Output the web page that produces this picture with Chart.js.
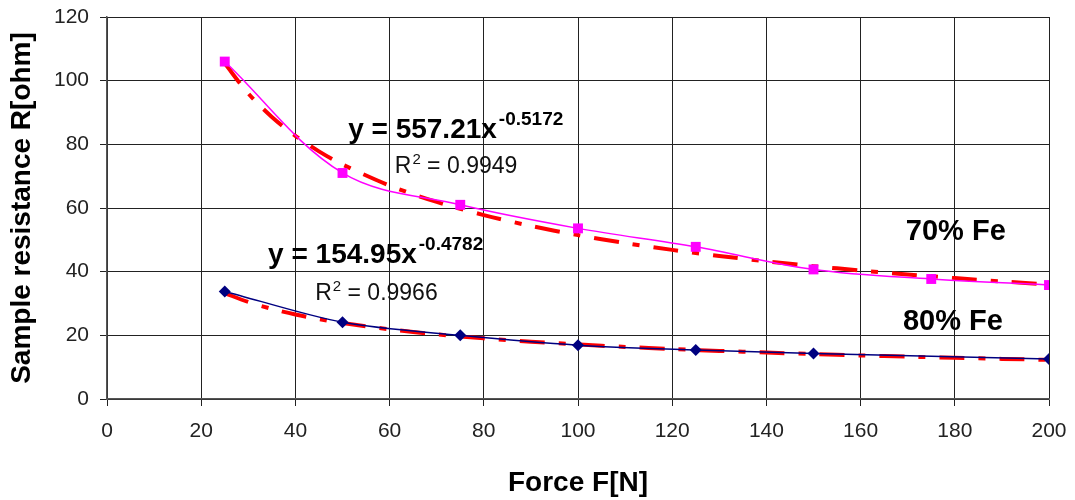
<!DOCTYPE html>
<html>
<head>
<meta charset="utf-8">
<script src="https://cdn.jsdelivr.net/npm/chart.js@4.4.1/dist/chart.umd.min.js"></script>
<style>
    html, body { margin: 0; padding: 0; background: #fff; }
    #wrap { width: 1075px; height: 500px; position: relative; }
</style>
</head>
<body>
<div id="wrap"><canvas id="forceChart"></canvas></div>
<script>
// measured samples
const fe70Force = [25, 50, 75, 100, 125, 150, 175, 200];
const fe70Resistance = [106, 71, 61, 53.6, 47.8, 40.7, 37.7, 35.8];
const fe80Force = [25, 50, 75, 100, 125, 150, 200];
const fe80Resistance = [33.8, 24.1, 20.0, 16.9, 15.4, 14.3, 12.6];

// power-law fits y = a * x^b, as printed on the chart
const fit70 = { a: 557.21, b: -0.5172, r2: 0.9949 };
const fit80 = { a: 154.95, b: -0.4782, r2: 0.9966 };
const trendForce = [25, 30, 35, 40, 45, 50, 60, 70, 80, 90, 100, 110, 120, 130, 140, 150, 160, 170, 180, 190, 200];

const xTicks = [0, 20, 40, 60, 80, 100, 120, 140, 160, 180, 200];
const yTicks = [0, 20, 40, 60, 80, 100, 120];

const FONT = '"Liberation Sans", Arial, sans-serif';

function points(xs, ys) {
    return xs.map((x, i) => ({ x, y: ys[i] }));
}

function trend(fit) {
    return trendForce.map(x => ({ x, y: fit.a * Math.pow(x, fit.b) }));
}

// fixed scale boxes so the plot area stays put
function fixBox(s, size) {
    if (s.isHorizontal()) s.height = size; else s.width = size;
    s.paddingTop = 0; s.paddingBottom = 0; s.paddingLeft = 0; s.paddingRight = 0;
}

// text labels placed in data units
const notes = [
    { type: 'eq', fit: fit70, x: 51.2, y: 82.0 },
    { type: 'r2', fit: fit70, x: 61.1, y: 71.0 },
    { type: 'eq', fit: fit80, x: 34.2, y: 42.7 },
    { type: 'r2', fit: fit80, x: 44.2, y: 31.1 },
    { type: 'name', text: '70% Fe', x: 169.6, y: 50.0 },
    { type: 'name', text: '80% Fe', x: 169.0, y: 21.7 }
];

const notesPlugin = {
    id: 'notes',
    afterDatasetsDraw(chart) {
        const { ctx, scales } = chart;
        ctx.save();
        ctx.fillStyle = '#000';
        ctx.textBaseline = 'alphabetic';
        ctx.textAlign = 'left';
        notes.forEach(n => {
            const px = scales.x.getPixelForValue(n.x);
            const py = scales.y.getPixelForValue(n.y);
            if (n.type === 'eq') {
                const main = 'y = ' + n.fit.a.toFixed(2) + 'x';
                ctx.font = 'bold 28px ' + FONT;
                ctx.fillText(main, px, py);
                const w = ctx.measureText(main).width;
                ctx.font = 'bold 19px ' + FONT;
                ctx.fillText(n.fit.b.toFixed(4), px + w + 2, py - 13);
            } else if (n.type === 'r2') {
                ctx.fillStyle = '#111';
                ctx.font = '23px ' + FONT;
                ctx.fillText('R', px, py);
                let w = ctx.measureText('R').width;
                ctx.font = '15px ' + FONT;
                ctx.fillText('2', px + w + 1, py - 9);
                w += ctx.measureText('2').width + 1;
                ctx.font = '23px ' + FONT;
                ctx.fillText(' = ' + n.fit.r2.toFixed(4), px + w, py);
                ctx.fillStyle = '#000';
            } else {
                ctx.font = 'bold 29px ' + FONT;
                ctx.fillText(n.text, px, py);
            }
        });
        ctx.restore();
    }
};

new Chart(document.getElementById('forceChart'), {
    type: 'scatter',
    data: {
        datasets: [
            {
                label: '70% Fe', data: points(fe70Force, fe70Resistance), showLine: true,
                borderColor: '#ff00ff', backgroundColor: '#ff00ff', borderWidth: 1.5, tension: 0.35,
                pointStyle: 'rect', pointRadius: 7, pointBorderWidth: 0, order: 0
            },
            {
                label: '80% Fe', data: points(fe80Force, fe80Resistance), showLine: true,
                borderColor: '#000080', backgroundColor: '#000080', borderWidth: 1.5, tension: 0.3,
                pointStyle: 'rectRot', pointRadius: 6, pointBorderWidth: 0, order: 0
            },
            {
                label: 'Power (70% Fe)', data: trend(fit70), showLine: true,
                borderColor: '#ff0000', borderWidth: 4, borderDash: [25, 14, 7, 14],
                pointRadius: 0, tension: 0.3, order: 1
            },
            {
                label: 'Power (80% Fe)', data: trend(fit80), showLine: true,
                borderColor: '#ff0000', borderWidth: 4, borderDash: [25, 14, 7, 14],
                pointRadius: 0, tension: 0.3, order: 1
            }
        ]
    },
    options: {
        responsive: true,
        maintainAspectRatio: false,
        animation: false,
        layout: { padding: { top: 17, right: 26, left: 0, bottom: 0 } },
        plugins: { legend: { display: false }, tooltip: { enabled: false } },
        scales: {
            x: {
                type: 'linear', min: 0, max: 200,
                afterBuildTicks: s => { s.ticks = xTicks.map(v => ({ value: v })); },
                afterFit: s => fixBox(s, 101),
                grid: { color: '#222', lineWidth: 1, tickLength: 7 },
                border: { color: '#555', width: 1.5 },
                ticks: { color: '#222', padding: 13, font: { family: FONT, size: 21 } },
                title: {
                    display: true, text: 'Force F[N]', color: '#000',
                    font: { family: FONT, size: 28, weight: 'bold' }, padding: { top: 0, bottom: 0 }
                }
            },
            y: {
                type: 'linear', min: 0, max: 120,
                afterBuildTicks: s => { s.ticks = yTicks.map(v => ({ value: v })); },
                afterFit: s => fixBox(s, 107),
                grid: { color: '#222', lineWidth: 1, tickLength: 7 },
                border: { color: '#555', width: 1.5 },
                ticks: { color: '#222', padding: 11, font: { family: FONT, size: 21 } },
                title: {
                    display: true, text: 'Sample resistance R[ohm]', color: '#000',
                    font: { family: FONT, size: 28, weight: 'bold' }, padding: { top: 5, bottom: 0 }
                }
            }
        }
    },
    plugins: [notesPlugin]
});
</script>
</body>
</html>
